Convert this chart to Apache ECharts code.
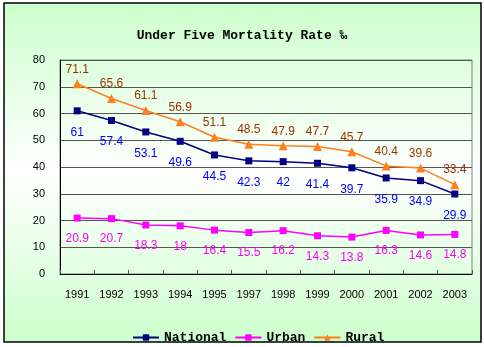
<!DOCTYPE html>
<html>
<head>
<meta charset="utf-8">
<script src="https://cdn.jsdelivr.net/npm/echarts@6/dist/echarts.min.js"></script>
<style>
html,body{margin:0;padding:0;background:#fff;}
#chart{width:484px;height:347px;}
</style>
</head>
<body>
<div id="chart"></div>
<script>
const years = ['1991','1992','1993','1994','1995','1997','1998','1999','2000','2001','2002','2003'];
const national = [61, 57.4, 53.1, 49.6, 44.5, 42.3, 42, 41.4, 39.7, 35.9, 34.9, 29.9];
const urban = [20.9, 20.7, 18.3, 18, 16.4, 15.5, 16.2, 14.3, 13.8, 16.3, 14.6, 14.8];
const rural = [71.1, 65.6, 61.1, 56.9, 51.1, 48.5, 47.9, 47.7, 45.7, 40.4, 39.6, 33.4];
const yTicks = [0, 10, 20, 30, 40, 50, 60, 70, 80];

const chart = echarts.init(document.getElementById('chart'), null, {renderer: 'canvas'});
const labelFont = 'Liberation Sans, Arial, sans-serif';
const boldFont = 'Liberation Mono, DejaVu Sans Mono, monospace';

chart.setOption({
  animation: false,
  backgroundColor: '#ffffff',
  graphic: [{
    type: 'rect',
    z: -10,
    silent: true,
    shape: {x: 4, y: 3, width: 477, height: 339},
    style: {
      fill: new echarts.graphic.LinearGradient(0, 0, 0, 1, [
        {offset: 0, color: '#ccffcc'},
        {offset: 0.5, color: '#ffffff'},
        {offset: 1, color: '#ccffcc'}
      ]),
      stroke: '#000000',
      lineWidth: 1.5
    }
  }],
  title: {
    text: 'Under Five Mortality Rate \u2030',
    left: 'center',
    top: 24,
    textStyle: {fontFamily: boldFont, fontWeight: 'bold', fontSize: 13, color: '#000'}
  },
  legend: {
    left: 127,
    top: 326,
    itemWidth: 26,
    itemHeight: 8,
    itemGap: 8,
    textStyle: {fontFamily: boldFont, fontWeight: 'bold', fontSize: 13, color: '#000'},
    data: ['National', 'Urban', 'Rural']
  },
  grid: {
    left: 60, right: 12, top: 60, bottom: 73,
    show: true, borderColor: '#808080', borderWidth: 1, backgroundColor: 'transparent'
  },
  xAxis: {
    type: 'category',
    data: years,
    boundaryGap: true,
    axisLine: {lineStyle: {color: '#000', width: 1}},
    axisTick: {show: true, inside: true, length: 4, interval: 0, lineStyle: {color: '#555'}},
    axisLabel: {color: '#000', fontFamily: labelFont, fontSize: 11, margin: 15, interval: 0}
  },
  yAxis: {
    type: 'value',
    min: yTicks[0],
    max: yTicks[yTicks.length - 1],
    interval: yTicks[1] - yTicks[0],
    axisLine: {show: true, lineStyle: {color: '#000', width: 1}},
    axisTick: {show: false},
    splitLine: {lineStyle: {color: '#555', width: 1}},
    axisLabel: {color: '#000', fontFamily: labelFont, fontSize: 11, margin: 15}
  },
  series: [
    {
      name: 'National', type: 'line', data: national,
      symbol: 'rect', symbolSize: 7,
      lineStyle: {color: '#000080', width: 1.5},
      itemStyle: {color: '#000080'},
      label: {show: true, position: 'bottom', distance: 12, color: '#0000ff', fontFamily: labelFont, fontSize: 12}
    },
    {
      name: 'Urban', type: 'line', data: urban,
      symbol: 'rect', symbolSize: 7,
      lineStyle: {color: '#ff00ff', width: 1.5},
      itemStyle: {color: '#ff00ff'},
      label: {show: true, position: 'bottom', distance: 11, color: '#ff00ff', fontFamily: labelFont, fontSize: 12}
    },
    {
      name: 'Rural', type: 'line', data: rural,
      symbol: 'triangle', symbolSize: 9,
      lineStyle: {color: '#ff7f1e', width: 1.5},
      itemStyle: {color: '#ff7f1e'},
      label: {show: true, position: 'top', distance: 4, color: '#993300', fontFamily: labelFont, fontSize: 12}
    }
  ]
});
</script>
</body>
</html>
